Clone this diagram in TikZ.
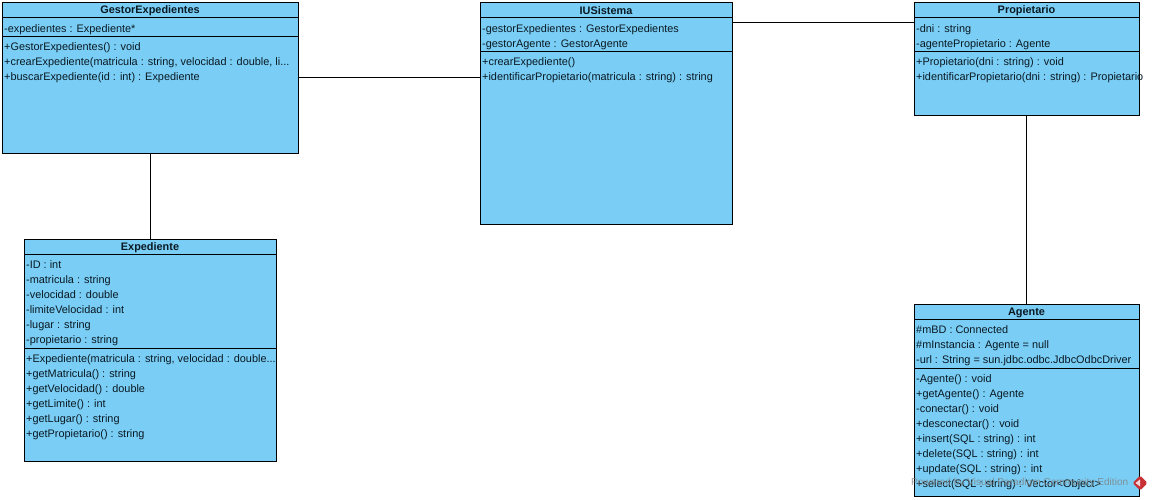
\documentclass[tikz,border=0pt]{standalone}
\usepackage{fontspec}
\setmainfont{Liberation Sans}
\definecolor{umlfill}{RGB}{122,206,245}
\definecolor{umltext}{RGB}{10,25,35}
\definecolor{vpred}{RGB}{200,50,55}
\tikzset{
  x=1pt,y=-1pt,
  umlbox/.style={draw=black,fill=umlfill,line width=0.9pt,rectangle,inner sep=0pt,anchor=north west},
  umlhead/.style={font=\fontsize{10.9}{15}\selectfont\bfseries,text=umltext,inner sep=0pt,anchor=center},
  umllines/.style={font=\fontsize{10.9}{15}\selectfont,text=umltext,inner sep=0pt,anchor=north west,align=left},
  umlsep/.style={draw=black,line width=0.9pt},
  assoc/.style={draw=black,line width=0.9pt},
  mark text/.style={font=\fontsize{10.1}{12}\selectfont,text=gray,opacity=0.8,inner sep=0pt,anchor=west}
}
\begin{document}
\begin{tikzpicture}
\useasboundingbox (0,0) rectangle (1152,500);
\fill[white] (0,0) rectangle (1152,500);

% GestorExpedientes
\node[umlbox,minimum width=296pt,minimum height=151pt] (gestor) at (2,2) {};
\node[umlhead] (gestorT) at (150,11) {GestorExpedientes};
\coordinate (g1) at (2,17); \coordinate (g2) at (2,36);
\draw[umlsep] (g1) -- (g1 -| gestor.east);
\draw[umlsep] (g2) -- (g2 -| gestor.east);
\node[umllines] (gestorA) at (4,24) {-expedientes : Expediente*};
\node[umllines] (gestorM) at (4,42) {+GestorExpedientes() : void\\+crearExpediente(matricula : string, velocidad : double, li...\\+buscarExpediente(id : int) : Expediente};

% IUSistema
\node[umlbox,minimum width=252pt,minimum height=222pt] (iu) at (480,2) {};
\node[umlhead] (iuT) at (606,11) {IUSistema};
\coordinate (i1) at (480,17); \coordinate (i2) at (480,51);
\draw[umlsep] (i1) -- (i1 -| iu.east);
\draw[umlsep] (i2) -- (i2 -| iu.east);
\node[umllines] (iuA) at (482,24) {-gestorExpedientes : GestorExpedientes\\-gestorAgente : GestorAgente};
\node[umllines] (iuM) at (482,57) {+crearExpediente()\\+identificarPropietario(matricula : string) : string};

% Propietario
\node[umlbox,minimum width=225pt,minimum height=113pt] (prop) at (914,2) {};
\node[umlhead] (propT) at (1026.5,11) {Propietario};
\coordinate (p1) at (914,17); \coordinate (p2) at (914,51);
\draw[umlsep] (p1) -- (p1 -| prop.east);
\draw[umlsep] (p2) -- (p2 -| prop.east);
\node[umllines] (propA) at (916,24) {-dni : string\\-agentePropietario : Agente};
\node[umllines] (propM) at (916,57) {+Propietario(dni : string) : void\\+identificarPropietario(dni : string) : Propietario};

% Expediente
\node[umlbox,minimum width=252pt,minimum height=222pt] (exped) at (24,239) {};
\node[umlhead] (expedT) at (150,248) {Expediente};
\coordinate (e1) at (24,254); \coordinate (e2) at (24,348);
\draw[umlsep] (e1) -- (e1 -| exped.east);
\draw[umlsep] (e2) -- (e2 -| exped.east);
\node[umllines] (expedA) at (26,260.5) {-ID : int\\-matricula : string\\-velocidad : double\\-limiteVelocidad : int\\-lugar : string\\-propietario : string};
\node[umllines] (expedM) at (26,354) {+Expediente(matricula : string, velocidad : double...\\+getMatricula() : string\\+getVelocidad() : double\\+getLimite() : int\\+getLugar() : string\\+getPropietario() : string};

% Agente
\node[umlbox,minimum width=225pt,minimum height=192pt] (agente) at (914,304) {};
\node[umlhead] (agenteT) at (1026.5,313) {Agente};
\coordinate (a1) at (914,319); \coordinate (a2) at (914,368);
\draw[umlsep] (a1) -- (a1 -| agente.east);
\draw[umlsep] (a2) -- (a2 -| agente.east);
\node[umllines] (agenteA) at (916,325.5) {\#mBD : Connected\\\#mInstancia : Agente = null\\-url : String = sun.jdbc.odbc.JdbcOdbcDriver};
\node[umllines] (agenteM) at (916,374) {-Agente() : void\\+getAgente() : Agente\\-conectar() : void\\+desconectar() : void\\+insert(SQL : string) : int\\+delete(SQL : string) : int\\+update(SQL : string) : int\\+select(SQL : string) : Vector<Object>};

% Connectors
\draw[assoc] (gestor.east) -- (gestor.east -| iu.west);
\draw[assoc] ([yshift=-20pt]iu.north east) -- ([yshift=-20pt]prop.north west);
\draw[assoc] (gestor.south) -- (exped.north);
\draw[assoc] ([xshift=-0.6pt]prop.south) -- ([xshift=-0.6pt]agente.north);

% Watermark
\node[mark text] (wm) at (911,483) {Powered by Visual Paradigm Community Edition};
\fill[vpred,rounded corners=1.5pt] (1140,475.5) -- (1147.5,483) -- (1140,490.5) -- (1132.5,483) -- cycle;
\fill[white!80!vpred] (1135.5,483) -- (1140,479.5) -- (1140,486.5) -- cycle;
\end{tikzpicture}
\end{document}
